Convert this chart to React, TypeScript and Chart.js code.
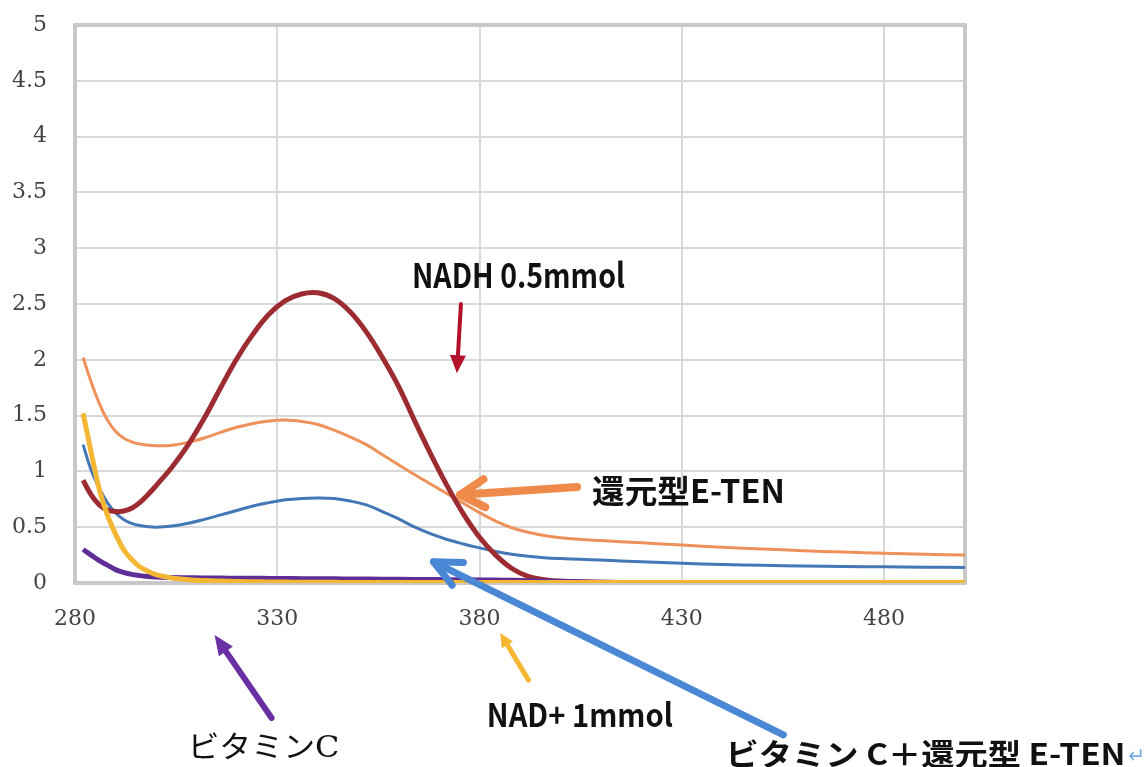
import React, { useEffect, useRef } from "react";
import { Chart, registerables } from "chart.js";

Chart.register(...registerables);

// ---- data ----
const wavelengths = [
  282, 284, 286, 288, 290, 292, 294, 296, 298, 300, 304, 308, 312, 316, 320, 324, 328, 332, 336, 340,
  344, 348, 352, 356, 360, 364, 368, 372, 376, 380, 384, 388, 392, 396, 400, 405, 410, 420, 430, 440,
  450, 460, 470, 480, 490, 500,
];

const nadh05 = [
  0.92, 0.79, 0.7, 0.655, 0.64, 0.645, 0.67, 0.72, 0.79, 0.87, 1.04, 1.24, 1.48, 1.75, 2.01, 2.23, 2.41, 2.53, 2.59, 2.6,
  2.55, 2.43, 2.25, 2.02, 1.76, 1.45, 1.15, 0.87, 0.62, 0.41, 0.25, 0.13, 0.06, 0.03, 0.015, 0.01, 0.006, 0.004, 0.003, 0.002,
  0.002, 0.002, 0.002, 0.002, 0.002, 0.002,
];

const reducedETEN = [
  2.02, 1.8, 1.61, 1.46, 1.36, 1.3, 1.265, 1.245, 1.235, 1.23, 1.235, 1.26, 1.3, 1.35, 1.395, 1.43, 1.452, 1.46, 1.447, 1.42,
  1.37, 1.31, 1.24, 1.15, 1.06, 0.97, 0.885, 0.8, 0.715, 0.63, 0.555, 0.495, 0.455, 0.425, 0.405, 0.39, 0.38, 0.36, 0.34, 0.32,
  0.305, 0.29, 0.277, 0.266, 0.257, 0.25,
];

const vitCPlusETEN = [
  1.24, 1.01, 0.85, 0.72, 0.63, 0.57, 0.535, 0.515, 0.505, 0.5, 0.51, 0.535, 0.57, 0.61, 0.65, 0.69, 0.72, 0.745, 0.758, 0.762,
  0.757, 0.735, 0.7, 0.64, 0.575, 0.5, 0.44, 0.39, 0.35, 0.315, 0.283, 0.258, 0.24, 0.227, 0.219, 0.212, 0.205, 0.19, 0.176, 0.166,
  0.158, 0.152, 0.148, 0.145, 0.142, 0.14,
];

const nadPlus1 = [
  1.52, 1.17, 0.84, 0.61, 0.44, 0.3, 0.21, 0.145, 0.105, 0.075, 0.045, 0.03, 0.022, 0.017, 0.013, 0.011, 0.009, 0.008, 0.007, 0.006,
  0.006, 0.005, 0.005, 0.005, 0.005, 0.005, 0.005, 0.004, 0.004, 0.004, 0.004, 0.004, 0.004, 0.004, 0.004, 0.004, 0.004, 0.004, 0.004, 0.004,
  0.004, 0.004, 0.004, 0.004, 0.004, 0.004,
];

const vitaminC = [
  0.3, 0.25, 0.2, 0.16, 0.12, 0.095, 0.077, 0.066, 0.058, 0.053, 0.049, 0.047, 0.045, 0.044, 0.043, 0.042, 0.041, 0.04, 0.039, 0.038,
  0.037, 0.036, 0.035, 0.034, 0.033, 0.032, 0.031, 0.03, 0.029, 0.028, 0.026, 0.024, 0.021, 0.018, 0.015, 0.011, 0.007, 0.003, 0.001, 0.0,
  0.0, 0.0, 0.0, 0.0, 0.0, 0.0,
];

const xTickValues = [280, 330, 380, 430, 480];
const yTickValues = [0, 0.5, 1, 1.5, 2, 2.5, 3, 3.5, 4, 4.5, 5];

// ---- annotations (in data units) ----
const labels = [
  { text: "NADH 0.5mmol", x: 363.3, y: 2.64, font: 'bold 34px "Noto Sans CJK JP", "DejaVu Sans", sans-serif', width: 213, color: "#111111" },
  { text: "還元型E-TEN", x: 407.8, y: 0.716, font: 'bold 32px "Noto Sans CJK JP", sans-serif', width: 193, color: "#111111" },
  { text: "NAD+ 1mmol", x: 381.8, y: -1.288, font: 'bold 32px "Noto Sans CJK JP", sans-serif', width: 186, color: "#111111" },
  { text: "ビタミンC", x: 307.8, y: -1.556, font: '30px "DejaVu Serif", "Noto Sans CJK JP", serif', width: 152, color: "#111111" },
  { text: "ビタミン C＋還元型 E-TEN", x: 440.8, y: -1.628, font: 'bold 30px "Noto Sans CJK JP", sans-serif', width: 400, color: "#111111" },
  { text: "↵", x: 540.3, y: -1.61, font: '22px "DejaVu Sans", sans-serif', width: 17, color: "#7aaee0" },
];

const arrows = [
  { from: [375.4, 2.5], to: [374.4, 1.88], color: "#b3122c", lw: 4, head: "filled", hl: 18, hw: 16 },
  { from: [404.1, 0.86], to: [375.2, 0.79], color: "#f08a4b", lw: 8, head: "open", hl: 28, hw: 30 },
  { from: [455.1, -1.36], to: [368.6, 0.19], color: "#4a88d6", lw: 7, head: "open", hl: 30, hw: 25 },
  { from: [392.1, -0.87], to: [385.1, -0.447], color: "#f5b731", lw: 5, head: "filled", hl: 14, hw: 13 },
  { from: [328.6, -1.21], to: [314.5, -0.465], color: "#6a2fa3", lw: 6, head: "filled", hl: 20, hw: 17 },
];

function toPoints(ys: number[]) {
  return wavelengths.map((x, i) => ({ x, y: ys[i] }));
}

function drawArrow(ctx: CanvasRenderingContext2D, x1: number, y1: number, x2: number, y2: number, a: any) {
  const ang = Math.atan2(y2 - y1, x2 - x1);
  ctx.save();
  ctx.strokeStyle = a.color;
  ctx.fillStyle = a.color;
  ctx.lineWidth = a.lw;
  ctx.lineCap = "round";
  ctx.lineJoin = "round";
  if (a.head === "filled") {
    const sx = x2 - Math.cos(ang) * a.hl * 0.8;
    const sy = y2 - Math.sin(ang) * a.hl * 0.8;
    ctx.beginPath();
    ctx.moveTo(x1, y1);
    ctx.lineTo(sx, sy);
    ctx.stroke();
    const bx = x2 - Math.cos(ang) * a.hl;
    const by = y2 - Math.sin(ang) * a.hl;
    const px = (-Math.sin(ang) * a.hw) / 2;
    const py = (Math.cos(ang) * a.hw) / 2;
    ctx.beginPath();
    ctx.moveTo(x2, y2);
    ctx.lineTo(bx + px, by + py);
    ctx.lineTo(bx - px, by - py);
    ctx.closePath();
    ctx.fill();
  } else {
    ctx.beginPath();
    ctx.moveTo(x1, y1);
    ctx.lineTo(x2, y2);
    ctx.stroke();
    const wa = (a.hw * Math.PI) / 180;
    ctx.beginPath();
    ctx.moveTo(x2 - Math.cos(ang - wa) * a.hl, y2 - Math.sin(ang - wa) * a.hl);
    ctx.lineTo(x2, y2);
    ctx.lineTo(x2 - Math.cos(ang + wa) * a.hl, y2 - Math.sin(ang + wa) * a.hl);
    ctx.stroke();
  }
  ctx.restore();
}

const framePlugin = {
  id: "frame",
  beforeDatasetsDraw(chart: any) {
    const { ctx, chartArea } = chart;
    ctx.save();
    ctx.strokeStyle = "#c8c8c8";
    ctx.lineWidth = 4;
    ctx.strokeRect(chartArea.left, chartArea.top, chartArea.right - chartArea.left, chartArea.bottom - chartArea.top);
    ctx.restore();
  },
};

const annotationPlugin = {
  id: "annotations",
  afterDraw(chart: any) {
    const { ctx } = chart;
    const xs = chart.scales.x;
    const ys = chart.scales.y;
    arrows.forEach((a) => {
      drawArrow(
        ctx,
        xs.getPixelForValue(a.from[0]),
        ys.getPixelForValue(a.from[1]),
        xs.getPixelForValue(a.to[0]),
        ys.getPixelForValue(a.to[1]),
        a
      );
    });
    labels.forEach((l) => {
      ctx.save();
      ctx.font = l.font;
      ctx.fillStyle = l.color;
      ctx.textAlign = "left";
      ctx.textBaseline = "alphabetic";
      const w = ctx.measureText(l.text).width || 1;
      const sx = Math.max(0.6, Math.min(1.4, l.width / w));
      ctx.translate(xs.getPixelForValue(l.x), ys.getPixelForValue(l.y));
      ctx.scale(sx, 1);
      ctx.fillText(l.text, 0, 0);
      ctx.restore();
    });
  },
};

export default function App() {
  const canvasRef = useRef<HTMLCanvasElement | null>(null);

  useEffect(() => {
    const canvas = canvasRef.current;
    if (!canvas) return;
    const tickFont = { family: '"DejaVu Serif", serif', size: 22 };
    const smooth = { cubicInterpolationMode: "default" as const, tension: 0.4 };
    const mono = { cubicInterpolationMode: "monotone" as const };
    const chart = new Chart(canvas, {
      type: "line",
      data: {
        datasets: [
          { label: "NAD+ 1mmol", data: toPoints(nadPlus1), borderColor: "#f4b733", borderWidth: 5, ...mono },
          { label: "ビタミンC", data: toPoints(vitaminC), borderColor: "#5e2d96", borderWidth: 5, ...mono },
          { label: "NADH 0.5mmol", data: toPoints(nadh05), borderColor: "#9c2c31", borderWidth: 5, ...smooth },
          { label: "ビタミン C＋還元型 E-TEN", data: toPoints(vitCPlusETEN), borderColor: "#4377b6", borderWidth: 3, ...smooth },
          { label: "還元型E-TEN", data: toPoints(reducedETEN), borderColor: "#ef915a", borderWidth: 3, ...smooth },
        ].map((d) => ({ ...d, pointRadius: 0, fill: false })),
      },
      options: {
        responsive: false,
        devicePixelRatio: 1,
        animation: false,
        layout: { padding: { left: 0, top: 25, right: 181, bottom: 0 } },
        plugins: { legend: { display: false }, tooltip: { enabled: false } },
        scales: {
          x: {
            type: "linear",
            min: 280,
            max: 500,
            afterBuildTicks: (axis: any) => {
              axis.ticks = xTickValues.map((v) => ({ value: v }));
            },
            afterFit: (s: any) => {
              s.height = 184;
              s.paddingLeft = 0;
              s.paddingRight = 0;
            },
            grid: { color: "#d9d9d9", lineWidth: 2, drawTicks: false, tickLength: 0 },
            border: { display: false },
            ticks: {
              font: tickFont,
              color: "#444444",
              padding: 23,
              maxRotation: 0,
              callback: (v: any) => String(v),
            },
          },
          y: {
            type: "linear",
            min: 0,
            max: 5,
            afterBuildTicks: (axis: any) => {
              axis.ticks = yTickValues.map((v) => ({ value: v }));
            },
            afterFit: (s: any) => {
              s.width = 75;
              s.paddingTop = 0;
              s.paddingBottom = 0;
            },
            grid: { color: "#d9d9d9", lineWidth: 2, drawTicks: false, tickLength: 0 },
            border: { display: false },
            ticks: {
              font: tickFont,
              color: "#444444",
              padding: 28,
              callback: (v: any) => String(v),
            },
          },
        },
      },
      plugins: [framePlugin, annotationPlugin],
    });
    return () => chart.destroy();
  }, []);

  return (
    <div style={{ position: "fixed", left: 0, top: 0, width: 1146, height: 767, background: "#ffffff" }}>
      <canvas ref={canvasRef} width={1146} height={767} style={{ display: "block" }} />
    </div>
  );
}
